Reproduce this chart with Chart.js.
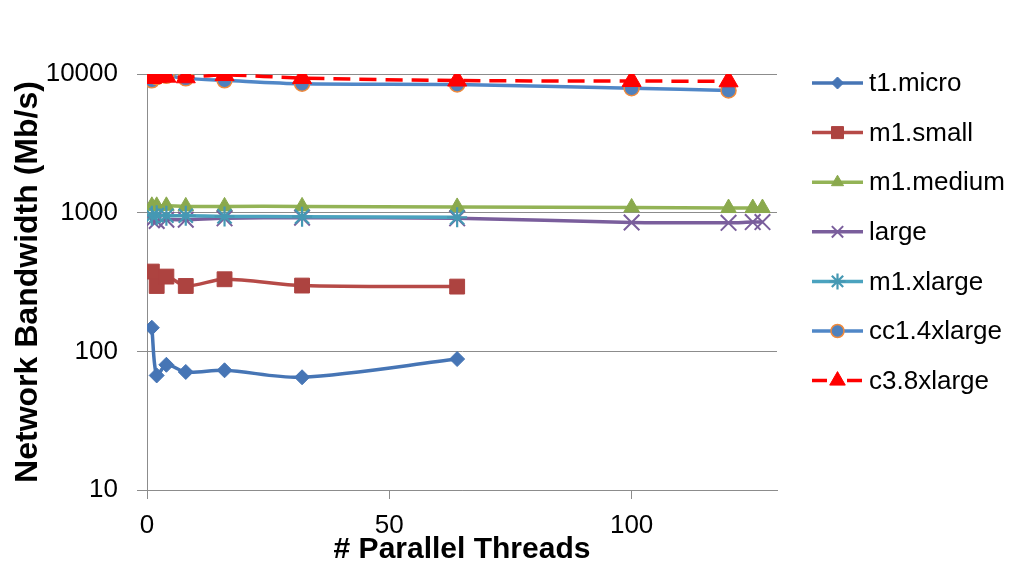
<!DOCTYPE html>
<html>
<head>
<meta charset="utf-8">
<script src="https://cdn.jsdelivr.net/npm/chart.js@4.4.0/dist/chart.umd.min.js"></script>
<style>
  body { margin: 0; background: #fff; }
  #wrap { width: 1023px; height: 565px; }
</style>
</head>
<body>
<div id="wrap"><canvas id="bandwidth" width="1023" height="565"></canvas></div>
<script>
// Series names, in legend order
const seriesNames = ['t1.micro', 'm1.small', 'm1.medium', 'large', 'm1.xlarge', 'cc1.4xlarge', 'c3.8xlarge'];

// Thread counts measured for each group of instances
const threadsShort = [1, 2, 4, 8, 16, 32, 64];
const threadsMid = [1, 2, 4, 8, 16, 32, 64, 100, 120];
const threadsLong = [1, 2, 4, 8, 16, 32, 64, 100, 120, 125, 127];

// Bandwidth in Mb/s
const t1Micro = [148, 67, 80, 71, 73, 65, 88];
const m1Small = [376, 296, 346, 296, 331, 298, 293];
const m1Medium = [1120, 1120, 1120, 1110, 1110, 1110, 1100, 1090, 1080, 1080, 1080];
const large = [880, 870, 890, 890, 910, 920, 910, 850, 845, 855, 855];
const m1Xlarge = [950, 960, 950, 950, 940, 935, 925];
const cc14xlarge = [9000, 9500, 9700, 9300, 9000, 8500, 8400, 7900, 7600];
const c38xlarge = [9350, 9570, 9570, 9470, 9830, 9350, 8970, 8900, 8860];

// Tick labels
const yTicks = [10, 100, 1000, 10000];
const xTicks = [0, 50, 100];

const toPoints = (xs, ys) => xs.map((x, i) => ({ x: x, y: ys[i] }));

const makeSeries = (index, xs, ys, style) => ({
    label: seriesNames[index],
    data: toPoints(xs, ys),
    showLine: true,
    tension: 0.3,
    borderWidth: 3.5,
    borderColor: style.line,
    backgroundColor: style.fill,
    borderDash: style.dash || [],
    pointStyle: style.marker,
    pointRadius: style.radius,
    pointHoverRadius: style.radius,
    pointBackgroundColor: style.fill,
    pointBorderColor: style.edge || style.fill,
    pointBorderWidth: style.edgeWidth || 1,
    legendRadius: style.legendRadius,
    order: seriesNames.length - index
});

const datasets = [
    makeSeries(0, threadsShort, t1Micro, { line: '#4675b5', fill: '#4675b5', marker: 'rectRot', radius: 7.5, legendRadius: 6 }),
    makeSeries(1, threadsShort, m1Small, { line: '#b64a47', fill: '#ad4340', marker: 'rect', radius: 10.5, legendRadius: 8.5 }),
    makeSeries(2, threadsLong, m1Medium, { line: '#93b356', fill: '#8aa94d', marker: 'triangle', radius: 9, legendRadius: 7 }),
    makeSeries(3, threadsLong, large, { line: '#7a5e9c', fill: '#7a5e9c', marker: 'crossRot', radius: 11, edgeWidth: 2, legendRadius: 8 }),
    makeSeries(4, threadsShort, m1Xlarge, { line: '#4ba3bf', fill: '#4598b3', marker: 'star', radius: 10, edgeWidth: 2.2, legendRadius: 8 }),
    makeSeries(5, threadsMid, cc14xlarge, { line: '#5087c7', fill: '#4f81bd', edge: '#f08a3c', edgeWidth: 1.5, marker: 'circle', radius: 7.5, legendRadius: 6.5 }),
    makeSeries(6, threadsMid, c38xlarge, { line: '#ff0000', fill: '#ff0000', dash: [17, 9], marker: 'triangle', radius: 11, legendRadius: 9 })
];

// Excel style legend: short line with the marker in the middle
const sideLegend = {
    id: 'sideLegend',
    afterDraw(chart) {
        const ctx = chart.ctx;
        const x0 = 812, x1 = 863, textX = 869, top = 83, step = 49.6;
        chart.data.datasets.forEach((ds, i) => {
            const y = top + i * step;
            ctx.save();
            ctx.strokeStyle = ds.borderColor;
            ctx.lineWidth = 3.5;
            ctx.setLineDash(ds.borderDash.length ? [15, 20] : []);
            ctx.beginPath();
            ctx.moveTo(x0, y);
            ctx.lineTo(x1, y);
            ctx.stroke();
            ctx.setLineDash([]);
            ctx.fillStyle = ds.pointBackgroundColor;
            ctx.strokeStyle = ds.pointBorderColor;
            ctx.lineWidth = ds.pointBorderWidth;
            const opts = { pointStyle: ds.pointStyle, rotation: 0, radius: ds.legendRadius, borderWidth: ds.pointBorderWidth };
            if (Chart.helpers && Chart.helpers.drawPoint) {
                Chart.helpers.drawPoint(ctx, opts, (x0 + x1) / 2, y);
            }
            ctx.fillStyle = '#000';
            ctx.font = '26px "Liberation Sans", Arial, sans-serif';
            ctx.textBaseline = 'middle';
            ctx.textAlign = 'left';
            ctx.fillText(ds.label, textX, y + 1);
            ctx.restore();
        });
    }
};

const gridGray = '#8c8c8c';
const tickFont = { family: '"Liberation Sans", Arial, sans-serif', size: 26 };

new Chart(document.querySelector('#bandwidth').getContext('2d'), {
    type: 'scatter',
    data: { datasets: datasets },
    options: {
        responsive: false,
        animation: false,
        layout: { padding: { top: 74, right: 246, bottom: 0, left: 0 } },
        plugins: {
            legend: { display: false },
            tooltip: { enabled: false }
        },
        scales: {
            x: {
                type: 'linear',
                min: 0,
                max: 130,
                afterBuildTicks: (scale) => { scale.ticks = xTicks.map(v => ({ value: v })); },
                afterFit: (scale) => { scale.height = 75; },
                grid: { drawOnChartArea: false, drawTicks: true, tickLength: 9, color: gridGray },
                border: { color: gridGray, width: 1 },
                ticks: { color: '#000', font: tickFont, padding: 11, maxRotation: 0 },
                title: {
                    display: true,
                    text: '# Parallel Threads',
                    color: '#000',
                    font: { family: '"Liberation Sans", Arial, sans-serif', size: 30, weight: 'bold', lineHeight: 1 },
                    padding: { top: 0, bottom: 0 }
                }
            },
            y: {
                type: 'logarithmic',
                min: 10,
                max: 10000,
                afterBuildTicks: (scale) => { scale.ticks = yTicks.map(v => ({ value: v })); },
                afterFit: (scale) => { scale.width = 147; },
                grid: { color: gridGray, tickLength: 10, lineWidth: 1 },
                border: { color: gridGray, width: 1 },
                ticks: { color: '#000', font: tickFont, padding: 19, callback: (v) => String(v) },
                title: {
                    display: true,
                    text: 'Network Bandwidth (Mb/s)',
                    color: '#000',
                    font: { family: '"Liberation Sans", Arial, sans-serif', size: 32, weight: 'bold', lineHeight: 1 },
                    padding: { top: 12, bottom: 0 }
                }
            }
        }
    },
    plugins: [sideLegend]
});
</script>
</body>
</html>
